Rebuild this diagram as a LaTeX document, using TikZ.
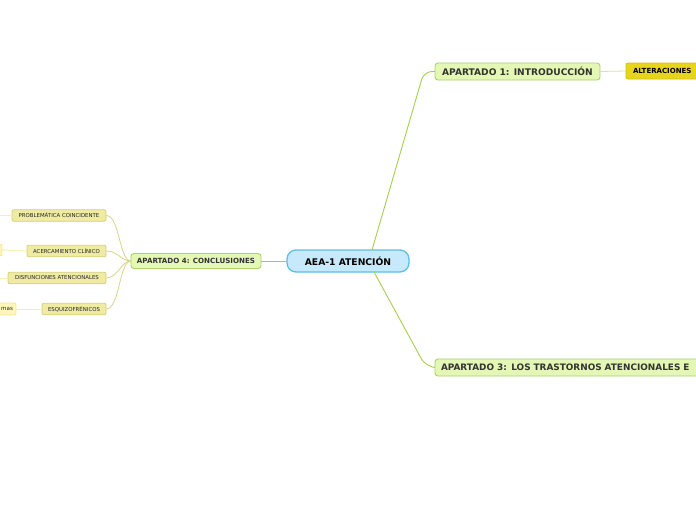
\documentclass[tikz,border=0pt]{standalone}
\usepackage{fontspec}
\setmainfont{DejaVu Sans}
\definecolor{cfill}{HTML}{C6EAFB}
\definecolor{cdraw}{HTML}{5BBFE9}
\definecolor{gfill}{HTML}{E4F7B4}
\definecolor{gdraw}{HTML}{A8D46A}
\definecolor{kfill}{HTML}{EFEBA3}
\definecolor{kdraw}{HTML}{D5D07C}
\definecolor{yfill}{HTML}{FFF6B8}
\definecolor{ydraw}{HTML}{F5E78C}
\definecolor{afill}{HTML}{E6D51C}
\definecolor{adraw}{HTML}{D3C010}
\definecolor{gline}{HTML}{A6CF4E}
\definecolor{kline}{HTML}{D8D48E}
\definecolor{yline}{HTML}{F7EEB0}
\definecolor{aline}{HTML}{DCE2A8}
\definecolor{txt}{HTML}{333333}
\tikzset{
  every node/.style={inner sep=0pt, outer sep=0pt},
  central/.style={draw=cdraw, fill=cfill, line width=1.3pt, rounded corners=9pt,
    minimum width=122pt, minimum height=22pt, font=\fontsize{9.2}{11}\selectfont\bfseries, text=black},
  mainbox/.style={draw=gdraw, fill=gfill, line width=0.9pt, rounded corners=3pt,
    font=\fontsize{9.1}{11}\selectfont\bfseries, text=txt},
  secbox/.style={draw=gdraw, fill=gfill, line width=0.9pt, rounded corners=3pt,
    font=\fontsize{7.1}{9}\selectfont\bfseries, text=txt},
  subbox/.style={draw=kdraw, fill=kfill, line width=0.8pt, rounded corners=2pt,
    minimum height=11.5pt, font=\fontsize{5.4}{6}\selectfont, text=black!85},
  leafbox/.style={draw=ydraw, fill=yfill, line width=0.8pt, rounded corners=2pt,
    minimum height=12pt, font=\fontsize{5.6}{6}\selectfont, text=black!85},
  altbox/.style={draw=adraw, fill=afill, line width=0.8pt, rounded corners=2pt,
    font=\fontsize{7}{8}\selectfont\bfseries, text=black},
  gconn/.style={draw=gline, line width=0.9pt},
  kconn/.style={draw=kline, line width=0.8pt},
  yconn/.style={draw=yline, line width=0.9pt},
  aconn/.style={draw=aline, line width=0.8pt},
}
\begin{document}
\begin{tikzpicture}[x=1pt, y=-1pt]
\useasboundingbox (0,0) rectangle (696,520);
\clip (0,0) rectangle (696,520);
\fill[white] (0,0) rectangle (696,520);

% nodes
\node[central] (c) at (348,261) {AEA-1 ATENCIÓN};
\node[mainbox, anchor=west, minimum width=165pt, minimum height=17pt] (a1) at (435,71.5) {APARTADO 1: INTRODUCCIÓN};
\node[altbox, anchor=west, minimum height=16pt, text width=90pt, inner xsep=7pt, align=left] (alt) at (626,71) {ALTERACIONES};
\node[mainbox, anchor=west, minimum height=17pt, text width=320pt, inner xsep=6pt, align=left, font=\fontsize{8.9}{11}\selectfont\bfseries] (a3) at (435,367.5) {APARTADO 3: LOS TRASTORNOS ATENCIONALES E};
\node[secbox, anchor=west, minimum width=130pt, minimum height=15pt] (a4) at (131,261) {APARTADO 4: CONCLUSIONES};

\node[subbox, anchor=east, minimum width=94pt] (p1) at (106,215.5) {PROBLEMÁTICA COINCIDENTE};
\node[subbox, anchor=east, minimum width=79pt] (p2) at (106,251) {ACERCAMIENTO CLÍNICO};
\node[subbox, anchor=east, minimum width=98pt] (p3) at (106,278) {DISFUNCIONES ATENCIONALES};
\node[subbox, anchor=east, minimum width=64pt] (p4) at (106,309) {ESQUIZOFRÉNICOS};

\node[leafbox, anchor=east, minimum width=30pt] (l2) at (2,250) {};
\node[leafbox, anchor=east, text width=30pt, inner xsep=3pt, align=right] (l4) at (16,309) {mas};
\coordinate (l1) at (-20,215.5);
\coordinate (l3) at (-20,278);

% connectors
\draw[gconn, rounded corners=8pt] ([xshift=24pt]c.north) -- ([xshift=-11pt]a1.west) -- (a1.west);
\draw[gconn, rounded corners=8pt] ([xshift=26pt]c.south) -- ([xshift=-10pt,yshift=2pt]a3.west) -- (a3.west);
\draw[gconn] (c.west) -- (a4.east);
\draw[aconn] (a1.east) -- (alt.west);

\draw[kconn] (a4.west) .. controls +(-12,0) and +(14,0) .. (p1.east);
\draw[kconn] (a4.west) .. controls +(-10,0) and +(12,0) .. (p2.east);
\draw[kconn] (a4.west) .. controls +(-10,0) and +(12,0) .. (p3.east);
\draw[kconn] (a4.west) .. controls +(-12,0) and +(14,0) .. (p4.east);

\draw[yconn] (p1.west) -- (l1);
\draw[yconn] (p2.west) -- (l2.east);
\draw[yconn] (p3.west) -- (l3);
\draw[yconn] (p4.west) -- (l4.east);
\end{tikzpicture}
\end{document}
